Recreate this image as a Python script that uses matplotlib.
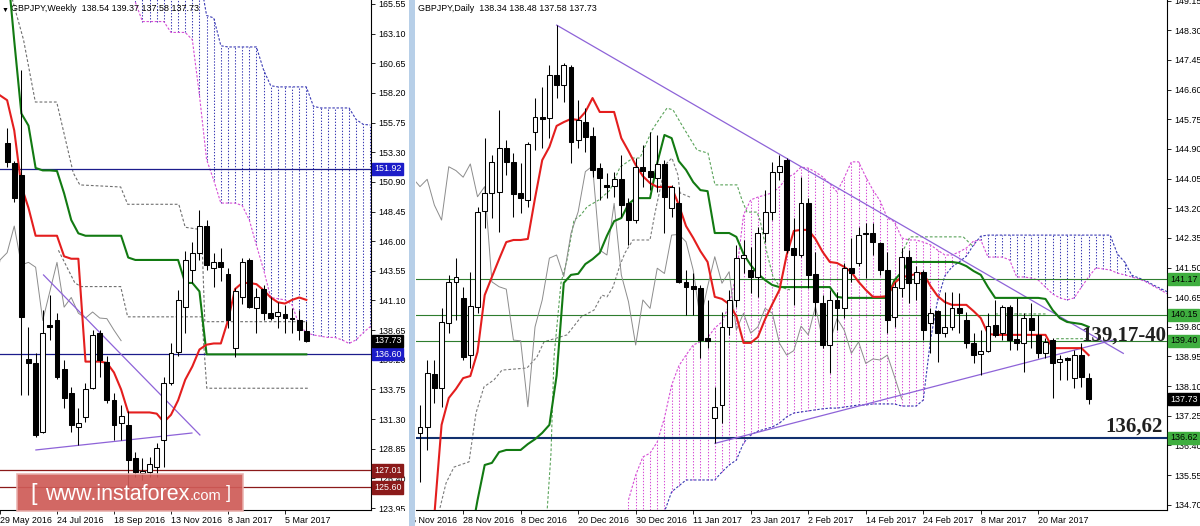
import matplotlib
matplotlib.use('Agg')
import matplotlib.pyplot as plt
from matplotlib.patches import Rectangle
from matplotlib.transforms import blended_transform_factory

plt.rcParams['font.family'] = ['Liberation Sans', 'DejaVu Sans']

# ---------------- weekly GBPJPY, bar 1 = week of 5 Jun 2016 ----------------
w_first = 1
w_open = [154.1, 152.4, 151.4, 136.2, 135.9, 130.2, 139.0, 139.4, 135.4, 133.4,
          130.6, 131.4, 133.8, 138.4, 136.0, 132.8, 130.9, 130.8, 128.0, 126.8,
          126.9, 127.3, 129.5, 134.2, 136.8, 140.5, 143.6, 145.0, 147.2, 143.7,
          144.2, 143.2, 137.1, 141.3, 144.4, 140.4, 142.0, 140.0, 139.8, 139.9,
          139.6, 139.4, 138.54]
w_high = [155.3, 152.6, 160.1, 138.9, 136.7, 140.3, 141.5, 140.0, 136.1, 133.9,
          132.2, 134.2, 138.6, 138.6, 136.5, 133.4, 132.4, 131.9, 128.5, 128.0,
          128.1, 129.3, 134.7, 137.5, 141.9, 145.1, 145.9, 148.5, 147.7, 145.0,
          145.4, 143.7, 142.1, 144.6, 144.6, 142.1, 142.3, 141.3, 140.9, 140.7,
          140.4, 140.3, 139.37]
w_low = [152.1, 149.2, 133.2, 133.2, 129.8, 130.1, 137.8, 134.6, 132.2, 130.2,
         129.1, 131.0, 133.7, 134.7, 132.6, 129.5, 129.5, 124.8, 126.5, 126.2,
         126.5, 126.5, 127.3, 134.1, 136.5, 138.4, 142.5, 144.4, 143.6, 142.2,
         142.7, 138.8, 136.4, 140.8, 140.4, 138.4, 139.4, 139.4, 138.8, 138.4,
         138.4, 137.8, 137.58]
w_close = [152.5, 149.5, 139.7, 135.9, 129.9, 138.4, 138.9, 134.7, 133.0, 130.8,
           130.9, 133.7, 138.2, 136.1, 132.8, 130.8, 131.5, 127.9, 126.9, 127.0,
           127.5, 128.9, 134.2, 136.7, 141.1, 144.4, 145.0, 147.2, 144.0, 144.2,
           143.8, 139.4, 141.8, 144.2, 140.5, 141.3, 140.0, 139.6, 140.1, 139.6,
           139.55, 138.6, 137.73]
# ichimoku lines, bar 0 .. 43
w_tenkan = [158.0, 157.6, 155.1, 150.5, 148.7, 146.4, 146.4, 146.4, 146.4, 144.7,
            144.5, 144.5, 136.0, 136.0, 136.0, 135.9, 135.1, 133.7, 131.8, 131.8,
            131.8, 131.8, 131.7, 131.0, 131.6, 132.8, 134.5, 135.6, 137.0, 137.4,
            137.5, 137.5, 139.4, 142.0, 142.5, 142.5, 142.4, 141.9, 141.3, 140.9,
            140.8, 141.1, 141.3, 141.1]
w_kijun = [169.5, 168.9, 162.5, 156.5, 155.5, 152.0, 151.8, 151.8, 151.75, 149.9,
           147.7, 146.6, 146.4, 146.4, 146.4, 146.4, 146.4, 146.4, 144.6, 144.4,
           144.4, 144.4, 144.4, 144.4, 144.4, 144.4, 142.5, 142.5, 141.8, 136.6,
           136.6, 136.6, 136.6, 136.6, 136.6, 136.6, 136.6, 136.6, 136.6, 136.6,
           136.6, 136.6, 136.6, 136.6]
# cloud, bar 19 .. 52
w_cloud_first = 19
w_span_a = [165.7, 164.1, 164.1, 164.1, 164.1, 163.2, 163.2, 163.2, 162.6, 158.0,
            152.7, 151.0, 149.1, 149.1, 149.1, 148.9, 147.7, 145.6, 143.6, 141.3,
            141.2, 141.1, 140.7, 139.0, 138.4, 138.2, 138.1, 138.0, 138.0, 137.8,
            137.5, 137.8, 138.4, 138.9]
w_span_b = [168.0, 168.0, 168.0, 168.0, 168.0, 168.0, 168.0, 168.0, 168.0, 168.0,
            164.6, 164.4, 162.1, 162.0, 162.0, 162.0, 162.0, 162.0, 160.1, 158.8,
            158.7, 158.7, 158.7, 158.7, 158.7, 157.1, 156.96, 156.96, 156.96, 156.96,
            156.96, 156.0, 155.6, 155.55]
# auxiliary dashed levels (bar, price)
w_aux1_x = [0.8, 3.3, 4.96, 7.96, 10.28, 11.21, 16.94, 17.92, 25.1, 26.0, 28.3, 28.75, 42.9]
w_aux1_y = [167.9, 162.6, 157.45, 157.45, 151.6, 150.6, 150.43, 149.0, 149.0, 147.1, 146.9, 139.3, 139.3]
w_aux2_x = [8.2, 8.89, 10.51, 11.39, 16.94, 17.92, 28.33, 29.03, 43.3]
w_aux2_y = [145.2, 144.4, 142.5, 142.2, 142.2, 139.7, 139.7, 133.8, 133.8]
w_trend1 = ([6.11, 28.06], [143.16, 129.94])
w_trend2 = ([5.04, 26.94], [128.7, 130.1])
w_levels_blue = [151.92, 136.60]
w_levels_red = [127.01, 125.60]
w_ticks = [165.55, 163.10, 160.65, 158.20, 155.75, 153.30, 150.85, 148.40, 145.95,
           143.50, 141.05, 138.60, 136.15, 133.70, 131.25, 128.80, 126.35, 123.90]
w_tick_labels = ['165.55', '163.10', '160.65', '158.20', '155.75', '153.30', '150.90',
                 '148.45', '146.00', '143.55', '141.10', '138.65', '136.20', '133.75',
                 '131.30', '128.85', '126.40', '123.95']
w_date_pos = [0, 8, 16, 24, 32, 40]
w_dates = ['29 May 2016', '24 Jul 2016', '18 Sep 2016', '13 Nov 2016', '8 Jan 2017', '5 Mar 2017']

# ---------------- daily GBPJPY, bar 0 = 18 Nov 2016 ----------------
d_open = [136.76, 136.94, 138.45, 138.05, 139.91, 141.09, 140.63, 139.0, 140.38, 143.13,
          143.63, 143.67, 144.94, 144.53, 143.63, 143.44, 145.39, 145.82, 145.78, 147.02,
          146.73, 147.26, 145.16, 145.68, 145.27, 144.34, 143.87, 143.85, 144.03, 143.36,
          142.86, 144.39, 144.27, 144.06, 144.47, 143.2, 143.36, 141.09, 140.97, 140.9,
          139.47, 137.18, 137.56, 139.8, 140.57, 141.77, 141.43, 141.24, 142.48, 143.1,
          144.25, 144.58, 142.05, 141.86, 143.36, 141.32, 140.47, 139.28, 140.57, 140.33,
          141.48, 141.62, 142.48, 142.48, 142.19, 141.43, 140.09, 140.9, 141.79, 141.05,
          141.38, 139.9, 140.24, 139.62, 139.8, 140.33, 140.0, 139.33, 139.02, 139.12,
          139.85, 139.63, 140.38, 139.44, 139.33, 140.04, 139.57, 139.04, 139.42, 138.78,
          138.9, 138.33, 138.99, 138.34]
d_high = [137.56, 138.85, 138.85, 140.34, 141.29, 141.77, 140.95, 141.38, 143.24, 145.2,
          144.73, 146.02, 145.16, 144.79, 144.49, 145.11, 146.35, 146.68, 147.31, 148.45,
          147.36, 147.31, 146.3, 146.06, 145.54, 144.49, 144.2, 144.25, 144.73, 143.49,
          144.63, 145.01, 145.39, 145.3, 144.58, 143.87, 143.82, 141.43, 141.33, 141.0,
          140.57, 138.08, 140.23, 140.86, 142.15, 142.29, 142.1, 142.67, 143.72, 144.53,
          144.73, 144.63, 142.91, 144.1, 143.49, 141.95, 140.71, 140.86, 140.81, 141.62,
          142.34, 142.67, 142.78, 142.77, 142.24, 141.95, 141.09, 142.05, 142.0, 141.53,
          141.43, 140.33, 140.28, 140.81, 140.81, 140.76, 140.23, 139.62, 139.71, 140.19,
          140.57, 140.43, 140.43, 140.62, 140.19, 140.47, 140.14, 139.47, 139.47, 138.99,
          138.94, 139.14, 139.33, 138.48]
d_low = [135.36, 136.27, 137.62, 137.51, 139.62, 140.0, 138.85, 138.62, 140.2, 142.63,
         142.91, 142.53, 144.15, 142.96, 143.06, 143.24, 144.87, 144.92, 145.2, 146.35,
         146.25, 144.49, 144.92, 144.82, 144.1, 143.44, 143.49, 143.53, 142.96, 142.15,
         142.77, 143.82, 143.72, 143.67, 142.48, 142.96, 141.05, 140.14, 140.14, 138.9,
         139.19, 136.46, 137.04, 139.57, 140.38, 141.33, 140.76, 140.66, 142.24, 142.86,
         144.01, 141.91, 140.43, 141.81, 140.9, 140.14, 139.19, 138.47, 139.71, 140.04,
         141.09, 141.53, 141.2, 141.86, 141.29, 139.62, 139.8, 140.66, 140.47, 140.57,
         139.42, 139.04, 138.8, 139.52, 139.71, 139.62, 139.19, 138.75, 138.42, 139.09,
         139.52, 139.42, 139.14, 139.14, 138.51, 139.19, 138.9, 138.9, 137.75, 138.28,
         138.28, 138.04, 138.08, 137.58]
d_close = [136.93, 138.47, 138.05, 139.95, 141.09, 141.23, 138.94, 140.4, 143.1, 143.63,
           144.53, 144.92, 144.53, 143.61, 143.49, 145.04, 145.81, 145.76, 147.02, 146.73,
           147.31, 145.11, 145.73, 145.25, 144.3, 144.06, 143.82, 144.03, 143.29, 142.86,
           144.39, 144.28, 144.09, 144.47, 143.53, 143.82, 141.09, 140.95, 140.88, 139.42,
           139.4, 137.51, 139.8, 140.57, 141.77, 141.86, 141.24, 142.48, 143.1, 144.25,
           144.41, 142.0, 141.86, 143.34, 141.29, 140.52, 139.28, 140.57, 140.33, 141.48,
           141.33, 142.43, 142.45, 142.24, 141.43, 139.99, 140.95, 141.81, 141.05, 141.38,
           139.71, 140.19, 139.62, 139.8, 140.33, 140.19, 139.33, 138.99, 139.12, 139.82,
           139.57, 140.38, 139.42, 139.35, 140.04, 139.71, 139.04, 139.37, 138.75, 138.88,
           138.85, 138.99, 138.37, 137.73]
d_tenkan = [129.0, 131.5, 134.41, 136.99, 137.76, 138.02, 138.33, 138.39, 139.08, 140.71,
            141.23, 141.74, 142.23, 142.29, 142.29, 142.32, 143.49, 144.58, 144.96, 145.56,
            145.67, 145.76, 145.73, 145.96, 146.36, 145.96, 145.96, 145.96, 145.21, 144.84,
            144.44, 144.12, 143.92, 143.81, 143.81, 143.81, 143.29, 142.69, 142.35, 141.97,
            141.66, 140.66, 140.6, 140.45, 140.11, 139.34, 139.34, 139.51, 140.02, 140.45,
            140.86, 141.86, 142.55, 142.58, 142.58, 142.32, 141.95, 141.66, 141.63, 141.52,
            141.37, 141.09, 140.86, 140.66, 140.66, 140.68, 141.06, 141.23, 141.26, 141.32,
            141.34, 140.97, 140.68, 140.51, 140.43, 140.43, 140.43, 140.25, 140.05, 139.6,
            139.57, 139.57, 139.57, 139.57, 139.57, 139.57, 139.57, 139.57, 139.19, 139.19,
            139.19, 139.19, 139.19, 138.99]
d_kijun_first = 6
d_kijun = [132.5, 133.69, 134.83, 135.84, 135.9, 136.21, 136.27, 136.27, 136.27, 136.44,
           136.58, 136.76, 136.99, 138.4, 141.06, 141.29, 141.32, 141.6, 141.74, 141.92,
           142.41, 142.83, 142.92, 143.32, 143.49, 143.49, 143.49, 144.5, 145.3, 145.21,
           144.55, 144.3, 143.95, 143.72, 143.69, 142.49, 142.49, 142.49, 142.38, 141.89,
           141.57, 141.32, 141.14, 141.0, 140.94, 140.94, 140.94, 140.94, 140.94, 140.94,
           140.94, 140.94, 140.66, 140.63, 140.63, 140.63, 140.63, 140.63, 140.63, 140.63,
           141.14, 141.37, 141.66, 141.66, 141.66, 141.66, 141.66, 141.66, 141.66, 141.63,
           141.54, 141.4, 141.29, 140.94, 140.63, 140.63, 140.63, 140.63, 140.63, 140.63,
           140.63, 140.6, 140.28, 140.05, 139.94, 139.91, 139.88, 139.8]
d_cloud_first = 29
d_span_a = [134.84, 135.55, 136.07, 136.18, 136.5, 137.19, 138.13, 138.68, 138.99, 139.28,
            139.37, 139.48, 139.77, 139.94, 140.43, 141.29, 143.01, 143.44, 143.52, 143.58,
            143.64, 143.81, 144.07, 144.18, 144.38, 144.35, 144.24, 144.1, 143.9, 143.67,
            144.07, 144.53, 144.53, 144.1, 143.72, 143.41, 142.92, 142.81, 142.35, 142.29,
            142.29, 142.23, 142.15, 142.0, 141.86, 141.86, 141.95, 142.06, 142.26, 142.29,
            141.8, 141.8, 141.8, 141.72, 141.23, 141.23, 141.2, 141.14, 140.94, 140.74,
            140.63, 140.57, 140.63, 140.94, 141.23, 141.49, 141.46, 141.43, 141.34, 141.29,
            141.23, 141.17, 141.09, 140.97, 140.86, 140.74]
d_span_b = [133.1, 133.55, 133.83, 134.12, 134.32, 134.5, 135.07, 135.24, 135.41, 135.41,
            135.41, 135.41, 135.41, 135.64, 135.84, 135.98, 136.47, 136.7, 136.81, 136.87,
            136.93, 137.04, 137.22, 137.33, 137.36, 137.39, 137.42, 137.45, 137.47, 137.47,
            137.5, 137.53, 137.56, 137.56, 137.59, 137.59, 137.59, 137.59, 137.53, 137.53,
            137.53, 137.7, 139.42, 140.57, 141.26, 141.52, 141.66, 141.83, 142.15, 142.4,
            142.43, 142.43, 142.43, 142.43, 142.43, 142.43, 142.43, 142.43, 142.43, 142.43,
            142.43, 142.43, 142.43, 142.43, 142.43, 142.43, 142.43, 142.43, 141.89, 141.66,
            141.28, 141.2, 141.12, 141.0, 140.9, 140.8]
d_aux1_x = [2.78, 3.62, 4.73, 6.82, 7.79, 8.9, 10.29, 11.4, 14.88, 16.27, 17.25, 20.45,
            22.39, 24.2, 25.31, 26.01, 26.84, 27.82, 28.51, 29.62, 31.99, 32.68, 33.66,
            34.35, 35.05, 35.88, 36.16, 37.55]
d_aux1_y = [134.61, 135.32, 135.78, 135.93, 137.33, 138.08, 138.28, 138.56, 138.62, 138.94,
            139.37, 139.57, 140.08, 140.28, 140.71, 140.66, 140.94, 141.57, 141.92, 142.29,
            142.29, 143.06, 144.01, 144.5, 144.64, 144.15, 143.64, 143.52]
d_aux2_x = [17.66, 18.22, 18.64, 19.61, 20.45, 21.42, 22.39, 23.23, 24.9, 26.43, 27.82,
            29.62, 30.6, 32.27, 33.66, 34.35, 35.19, 36.58, 38.53, 40.06, 41.03, 44.09,
            44.78, 45.48, 46.87, 47.29, 48.26, 49.1, 50.07, 51.46, None,
            67.0, 68.15, 75.56, 76.95, None, 80.0, 87.0, None, 88.5, 93.0]
d_aux2_y = [134.46, 136.18, 138.94, 141.06, 141.72, 142.86, 143.01, 143.24, 143.44, 143.72,
            144.38, 144.64, 144.64, 145.44, 145.87, 146.07, 146.02, 145.53, 144.87, 144.78,
            143.87, 143.87, 143.44, 143.09, 143.09, 142.86, 141.92, 141.23, 140.94, 140.86, None,
            141.91, 142.38, 142.38, 142.1, None, 140.17, 140.17, None, 139.46, 139.46]
d_trend1 = ([19.01, 97.82], [148.45, 139.04])
d_trend2 = ([41.03, 96.38], [136.46, 139.42])
d_levels_green = [141.17, 140.15, 139.40]
d_level_blue = 136.62
d_ticks = [149.15 - 0.85 * k for k in range(18)]
d_date_pos = [-2, 6, 14, 22, 30, 38, 46, 54, 62, 70, 78, 86]
d_dates = ['16 Nov 2016', '28 Nov 2016', '8 Dec 2016', '20 Dec 2016', '30 Dec 2016',
           '11 Jan 2017', '23 Jan 2017', '2 Feb 2017', '14 Feb 2017', '24 Feb 2017',
           '8 Mar 2017', '20 Mar 2017']

FS = 6.4
RED = '#e41e1e'
GREEN = '#127a12'
PINK = '#d64fd6'
BLUE = '#3a3ab4'
GREY = '#8c8c8c'


def candles(ax, first, o, h, l, c, width=0.68):
    for k in range(len(o)):
        x = first + k
        ax.vlines(x, l[k], h[k], color='black', lw=0.75, zorder=6)
        lo, hi = min(o[k], c[k]), max(o[k], c[k])
        fc = 'white' if c[k] >= o[k] else 'black'
        ax.add_patch(Rectangle((x - width / 2, lo), width, max(hi - lo, 0.01),
                               fc=fc, ec='black', lw=0.75, zorder=7))


def cloud(ax, first, a, b):
    xs = range(first, first + len(a))
    for x, va, vb in zip(xs, a, b):
        col = PINK if va > vb else BLUE
        ax.vlines(x, min(va, vb), max(va, vb), color=col, lw=0.75,
                  linestyles=(0, (1.3, 1.6)), zorder=2)
    ax.plot(list(xs), a, color=PINK, lw=0.8, ls=(0, (2.2, 1.5)), zorder=3)
    ax.plot(list(xs), b, color=BLUE, lw=0.8, ls=(0, (2.2, 1.5)), zorder=3)


def price_box(ax, y, text, fc, tc='white'):
    tr = blended_transform_factory(ax.transAxes, ax.transData)
    ax.annotate(text, xy=(1, y), xycoords=tr, xytext=(2.2, 0), textcoords='offset points',
                ha='left', va='center', fontsize=FS, color=tc, zorder=20,
                bbox=dict(boxstyle='square,pad=0.18', fc=fc, ec=fc), annotation_clip=False)


def style_axis(ax, ticks, labels):
    ax.yaxis.tick_right()
    ax.set_yticks(ticks)
    ax.set_yticklabels(labels, fontsize=FS)
    ax.tick_params(axis='y', direction='out', length=3, width=0.6, pad=2)
    ax.tick_params(axis='x', direction='out', length=3, width=0.6, pad=1.5, labelsize=FS)
    for s in ['top', 'left']:
        ax.spines[s].set_visible(False)
    for s in ['right', 'bottom']:
        ax.spines[s].set_linewidth(0.8)


W, H = 1200, 526
fig = plt.figure(figsize=(12, 5.26), dpi=100)


def rect(x0, y0, x1, y1):
    return [x0 / W, 1 - y1 / H, (x1 - x0) / W, (y1 - y0) / H]


# ================= weekly panel =================
axw = fig.add_axes(rect(0, 0, 371, 510))
axw.set_xlim(0.556, 52.08)
axw.set_ylim(165.88 - 510 * 0.08263, 165.88)
cloud(axw, w_cloud_first, w_span_a, w_span_b)
axw.plot(w_aux1_x, w_aux1_y, color='#6f6f6f', lw=0.8, ls=(0, (2.5, 1.8)), zorder=3)
axw.plot(w_aux2_x, w_aux2_y, color='#6f6f6f', lw=0.8, ls=(0, (2.5, 1.8)), zorder=3)
for lv in w_levels_blue:
    axw.axhline(lv, color='#1c1c8c', lw=0.9, zorder=4)
for lv in w_levels_red:
    axw.axhline(lv, color='#8b1a1a', lw=0.9, zorder=4)
axw.plot(range(w_first - 26, w_first - 26 + len(w_close)), w_close, color=GREY, lw=0.7, zorder=4)
axw.plot(w_trend1[0], w_trend1[1], color='#8e63d8', lw=0.9, zorder=4)
axw.plot(w_trend2[0], w_trend2[1], color='#8e63d8', lw=0.9, zorder=4)
axw.plot(range(len(w_kijun)), w_kijun, color=GREEN, lw=1.5, zorder=5)
axw.plot(range(len(w_tenkan)), w_tenkan, color=RED, lw=1.5, zorder=5)
candles(axw, w_first, w_open, w_high, w_low, w_close)
style_axis(axw, w_ticks, w_tick_labels)
axw.set_xticks(w_date_pos)
axw.set_xticklabels(w_dates, ha='left')
axw.text(0.004, 0.986, '▼', transform=axw.transAxes, fontsize=5, va='top', ha='left')
axw.text(0.03, 0.993, 'GBPJPY,Weekly  138.54 139.37 137.58 137.73', transform=axw.transAxes,
         fontsize=FS, va='top', ha='left')
price_box(axw, 151.92, '151.92', '#1c1cc8')
price_box(axw, 136.60, '136.60', '#1c1cc8')
price_box(axw, 137.73, '137.73', 'black')
price_box(axw, 127.01, '127.01', '#8b1a1a')
price_box(axw, 125.60, '125.60', '#8b1a1a')

# ================= daily panel =================
axd = fig.add_axes(rect(416, 0, 1167, 510))
axd.set_xlim(-0.556, 103.9)
axd.set_ylim(149.17 - 510 * 0.028668, 149.17)
cloud(axd, d_cloud_first, d_span_a, d_span_b)
axd.plot(d_aux1_x, d_aux1_y, color='#7a7a7a', lw=0.8, ls=(0, (2.5, 1.8)), zorder=3)
axd.plot(d_aux2_x, d_aux2_y, color='#5aa35a', lw=0.8, ls=(0, (2.5, 1.8)), zorder=3)
for lv in d_levels_green:
    axd.axhline(lv, color='#2e7d2e', lw=0.8, zorder=4)
axd.axhline(d_level_blue, color='#12306e', lw=1.5, zorder=4)
axd.plot(range(-26, -26 + len(d_close)), d_close, color=GREY, lw=0.7, zorder=4)
axd.plot(d_trend1[0], d_trend1[1], color='#8e63d8', lw=0.9, zorder=4)
axd.plot(d_trend2[0], d_trend2[1], color='#8e63d8', lw=0.9, zorder=4)
axd.plot(range(d_kijun_first, d_kijun_first + len(d_kijun)), d_kijun, color=GREEN, lw=1.5, zorder=5)
axd.plot(range(len(d_tenkan)), d_tenkan, color=RED, lw=1.5, zorder=5)
candles(axd, 0, d_open, d_high, d_low, d_close)
style_axis(axd, d_ticks, ['%.2f' % t for t in d_ticks])
axd.set_xticks(d_date_pos[1:])
axd.set_xticklabels(d_dates[1:], ha='left')
axd.text(d_date_pos[0], -0.012, d_dates[0], transform=blended_transform_factory(axd.transData, axd.transAxes),
         fontsize=FS, ha='left', va='top', clip_on=False)
axd.text(0.003, 0.993, 'GBPJPY,Daily  138.34 138.48 137.58 137.73', transform=axd.transAxes,
         fontsize=FS, va='top', ha='left')
for lv in d_levels_green:
    price_box(axd, lv, '%.2f' % lv, '#3fae3f', 'black')
price_box(axd, d_level_blue, '136.62', '#3fae3f', 'black')
price_box(axd, 137.73, '137.73', 'black')
axd.text(92.0, 139.55, '139,17-40', fontsize=15, fontweight='bold', family='Liberation Serif',
         color='#202020', ha='left', va='center', zorder=25)
axd.text(95.3, 136.95, '136,62', fontsize=15, fontweight='bold', family='Liberation Serif',
         color='#202020', ha='left', va='center', zorder=25)

# window separator and cover for the clipped first daily date
fig.add_artist(Rectangle((395 / W, 0), 14 / W, 15 / H, transform=fig.transFigure,
                         fc='white', ec='none', zorder=30))
fig.add_artist(Rectangle((409 / W, 0), 6 / W, 1, transform=fig.transFigure,
                         fc='#b7cfe8', ec='none', zorder=31))

# watermark
fig.add_artist(Rectangle((17 / W, 1 - 511 / H), 226 / W, 37 / H, transform=fig.transFigure,
                         fc='#cf5b57', ec='#eab0ad', lw=1.2, alpha=0.92, zorder=40))
fig.text(30 / W, 1 - 494 / H, '[', color='white', fontsize=17, va='center', ha='left', zorder=41)
t1 = fig.text(45 / W, 1 - 500 / H, 'www.instaforex', color='white', fontsize=15.5,
              va='baseline', ha='left', zorder=41)
fig.text(226 / W, 1 - 494 / H, ']', color='white', fontsize=13, va='center', ha='left', zorder=41)
fig.canvas.draw()
bb = t1.get_window_extent()
fig.text(bb.x1 / (W), 1 - 500 / H, '.com', color='white', fontsize=10.5, va='baseline',
         ha='left', zorder=41)

fig.savefig('out.png', dpi=100)
